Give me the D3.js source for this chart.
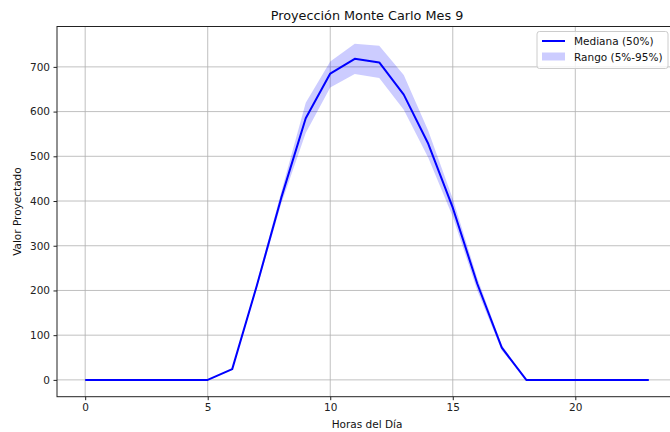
<!DOCTYPE html>
<html>
<head>
<meta charset="utf-8">
<script src="https://cdn.jsdelivr.net/npm/d3@7"></script>
<style>
  body { margin: 0; background: #fff; }
  svg { font-family: "DejaVu Sans", sans-serif; }
</style>
</head>
<body>
<div id="chart"></div>
<script>
// hours of the day and the projected values
var hours = [0,1,2,3,4,5,6,7,8,9,10,11,12,13,14,15,16,17,18,19,20,21,22,23];
var median = [0,0,0,0,0,0,24,210,407,585,685,718,710,638,528,385,215,72,0,0,0,0,0,0];
var p5 =     [0,0,0,0,0,0,22,204,394,552,654,684,675,604,497,365,200,66,0,0,0,0,0,0];
var p95 =    [0,0,0,0,0,0,26,216,420,620,712,752,747,682,557,405,228,78,0,0,0,0,0,0];
var xTicks = [0,5,10,15,20];
var yTicks = [0,100,200,300,400,500,600,700];

var width = 670, height = 432;
var plotL = 57, plotT = 26.5, plotR = 677, plotB = 396.7;
var fs = 10.5;

var svg = d3.select('#chart').append('svg').attr('width', width).attr('height', height);

var x = d3.scaleLinear().domain([-1.15, 24.15]).range([plotL, plotR]);
var y = d3.scaleLinear().domain([-37.6, 790.3]).range([plotB, plotT]);

svg.append('clipPath').attr('id', 'plot').append('rect')
  .attr('x', plotL).attr('y', plotT).attr('width', plotR - plotL).attr('height', plotB - plotT);

// grid
var grid = svg.append('g');
grid.selectAll('.gx').data(xTicks).enter().append('line')
  .attr('x1', function(d){ return x(d); }).attr('x2', function(d){ return x(d); })
  .attr('y1', plotT).attr('y2', plotB)
  .attr('stroke', '#b0b0b0').attr('stroke-width', 0.8);
grid.selectAll('.gy').data(yTicks).enter().append('line')
  .attr('x1', plotL).attr('x2', plotR)
  .attr('y1', function(d){ return y(d); }).attr('y2', function(d){ return y(d); })
  .attr('stroke', '#b0b0b0').attr('stroke-width', 0.8);

var plot = svg.append('g').attr('clip-path', 'url(#plot)');

var area = d3.area()
  .x(function(d, i){ return x(hours[i]); })
  .y0(function(d, i){ return y(p5[i]); })
  .y1(function(d, i){ return y(p95[i]); });
plot.append('path').datum(hours).attr('d', area)
  .attr('fill', 'blue').attr('fill-opacity', 0.2);

var line = d3.line()
  .x(function(d, i){ return x(hours[i]); })
  .y(function(d){ return y(d); });
plot.append('path').datum(median).attr('d', line)
  .attr('fill', 'none').attr('stroke', 'blue').attr('stroke-width', 2)
  .attr('stroke-linejoin', 'round');

// axes
var xAxis = svg.append('g').attr('transform', 'translate(0,' + plotB + ')')
  .call(d3.axisBottom(x).tickValues(xTicks).tickSize(3.5).tickPadding(3.5));
var yAxis = svg.append('g').attr('transform', 'translate(' + plotL + ',0)')
  .call(d3.axisLeft(y).tickValues(yTicks).tickSize(3.5).tickPadding(3.5));
[xAxis, yAxis].forEach(function(a){
  a.select('.domain').remove();
  a.selectAll('text').attr('font-size', fs).attr('fill', '#222').attr('font-family', '"DejaVu Sans", sans-serif');
  a.selectAll('line').attr('stroke', '#222');
});

// frame
svg.append('rect').attr('x', plotL).attr('y', plotT)
  .attr('width', plotR - plotL).attr('height', plotB - plotT)
  .attr('fill', 'none').attr('stroke', '#222').attr('stroke-width', 1);

// labels
var midX = (plotL + plotR) / 2;
svg.append('text').attr('x', midX).attr('y', 20)
  .attr('text-anchor', 'middle').attr('font-size', 12.8).attr('fill', '#111')
  .text('Proyección Monte Carlo Mes 9');
svg.append('text').attr('x', midX).attr('y', 428)
  .attr('text-anchor', 'middle').attr('font-size', fs).attr('fill', '#111')
  .text('Horas del Día');
svg.append('text').attr('transform', 'translate(21,' + ((plotT + plotB) / 2) + ') rotate(-90)')
  .attr('text-anchor', 'middle').attr('font-size', fs).attr('fill', '#111')
  .text('Valor Proyectado');

// legend
var lg = svg.append('g').attr('transform', 'translate(537,31.5)');
lg.append('rect').attr('width', 131).attr('height', 37).attr('rx', 2.5)
  .attr('fill', 'white').attr('fill-opacity', 0.8).attr('stroke', '#ccc');
lg.append('line').attr('x1', 5).attr('x2', 28).attr('y1', 9.5).attr('y2', 9.5)
  .attr('stroke', 'blue').attr('stroke-width', 2);
lg.append('rect').attr('x', 5).attr('y', 21).attr('width', 23).attr('height', 8)
  .attr('fill', 'blue').attr('fill-opacity', 0.2);
lg.append('text').attr('x', 37).attr('y', 13.5).attr('font-size', fs).attr('fill', '#111').text('Mediana (50%)');
lg.append('text').attr('x', 37).attr('y', 29).attr('font-size', fs).attr('fill', '#111').text('Rango (5%-95%)');
</script>
</body>
</html>
